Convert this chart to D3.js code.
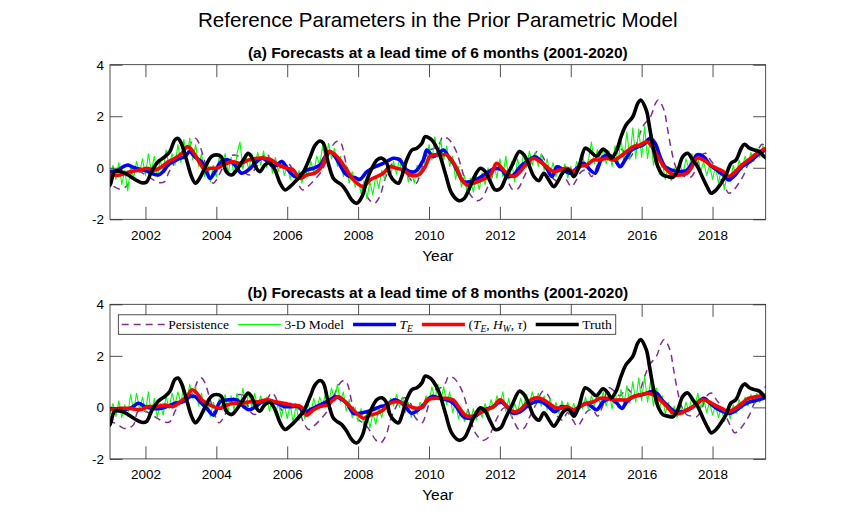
<!DOCTYPE html>
<html>
<head>
<meta charset="utf-8">
<script src="https://cdn.jsdelivr.net/npm/d3@7/dist/d3.min.js"></script>
<style>
  body { margin: 0; background: #fff; }
  svg { display: block; }
</style>
</head>
<body>
<svg id="chart" width="845" height="516"></svg>
<script>
'use strict';

/* global d3 */

var xTicks = [2002, 2004, 2006, 2008, 2010, 2012, 2014, 2016, 2018];
var yTicks = [-2, 0, 2, 4];
var leadA = 6;
var leadB = 8;
var monthStart = 2001;

// observed index (Truth), [year, value]
var truth = [
  [2000.30, -0.50], [2000.45, -0.60], [2000.60, -0.72], [2000.75, -0.82], [2000.90, -0.78],
  [2001.00, -0.67], [2001.13, -0.15], [2001.32, -0.15], [2001.51, -0.28], [2001.70, -0.45],
  [2001.89, -0.58], [2002.03, -0.55], [2002.17, -0.15], [2002.36, 0.24], [2002.55, 0.43],
  [2002.69, 0.63], [2002.83, 1.08], [2002.92, 1.14], [2003.01, 0.95], [2003.16, 0.30],
  [2003.30, -0.34], [2003.41, -0.60], [2003.53, -0.41], [2003.67, -0.02], [2003.86, 0.43],
  [2004.00, 0.50], [2004.14, 0.43], [2004.28, -0.15], [2004.43, -0.28], [2004.57, -0.09],
  [2004.76, 0.30], [2004.90, 0.56], [2004.99, 0.43], [2005.13, -0.02], [2005.23, -0.15],
  [2005.37, 0.11], [2005.51, 0.20], [2005.66, -0.10], [2005.80, -0.60], [2005.94, -0.86],
  [2006.08, -0.73], [2006.27, -0.47], [2006.46, -0.15], [2006.65, 0.43], [2006.79, 0.88],
  [2006.93, 1.04], [2007.02, 0.95], [2007.16, 0.17], [2007.30, -0.41], [2007.40, -0.54],
  [2007.54, -0.67], [2007.68, -0.93], [2007.82, -1.25], [2007.96, -1.38], [2008.11, -1.12],
  [2008.25, -0.47], [2008.39, -0.02], [2008.53, 0.30], [2008.67, 0.37], [2008.81, 0.17],
  [2008.90, -0.28], [2009.04, -0.54], [2009.14, -0.60], [2009.23, -0.34], [2009.37, 0.30],
  [2009.52, 0.69], [2009.66, 0.76], [2009.80, 0.95], [2009.89, 1.21], [2010.03, 1.14],
  [2010.12, 1.01], [2010.27, 0.63], [2010.46, -0.21], [2010.64, -0.99], [2010.85, -1.28],
  [2011.00, -1.18], [2011.12, -0.86], [2011.26, -0.40], [2011.45, -0.02], [2011.59, -0.15],
  [2011.73, -0.54], [2011.87, -0.86], [2012.02, -0.80], [2012.16, -0.41], [2012.35, 0.11],
  [2012.55, 0.63], [2012.68, 0.50], [2012.82, 0.11], [2012.96, -0.34], [2013.10, -0.50],
  [2013.24, -0.21], [2013.38, -0.47], [2013.52, -0.73], [2013.66, -0.47], [2013.80, -0.15],
  [2013.95, -0.09], [2014.09, -0.34], [2014.23, 0.04], [2014.41, 0.76], [2014.56, 0.63],
  [2014.72, 0.45], [2014.91, 0.72], [2015.05, 0.56], [2015.14, 0.37], [2015.28, 0.63],
  [2015.42, 1.21], [2015.56, 1.66], [2015.75, 1.98], [2015.89, 2.50], [2015.97, 2.63],
  [2016.13, 2.24], [2016.22, 1.60], [2016.32, 0.82], [2016.46, 0.04], [2016.60, -0.28],
  [2016.74, -0.34], [2016.88, -0.37], [2017.02, -0.09], [2017.16, 0.43], [2017.30, 0.56],
  [2017.44, 0.30], [2017.58, 0.04], [2017.73, -0.41], [2017.87, -0.80], [2017.96, -0.99],
  [2018.10, -0.86], [2018.24, -0.60], [2018.38, -0.28], [2018.52, 0.17], [2018.66, 0.30],
  [2018.81, 0.76], [2018.90, 0.91], [2019.04, 0.76], [2019.18, 0.69], [2019.32, 0.63],
  [2019.46, 0.43], [2019.55, 0.35]
];

// T_E forecasts, 6-month lead
var teA = [
  [2001.00, -0.15], [2001.23, -0.09], [2001.37, 0.04], [2001.51, 0.11], [2001.65, 0.02],
  [2001.84, -0.06], [2002.03, -0.12], [2002.17, -0.21], [2002.36, -0.28], [2002.50, -0.15],
  [2002.64, 0.11], [2002.78, 0.24], [2002.97, 0.37], [2003.11, 0.43], [2003.25, 0.63],
  [2003.35, 0.50], [2003.44, 0.37], [2003.58, 0.24], [2003.72, -0.15], [2003.82, -0.41],
  [2003.96, -0.15], [2004.14, 0.24], [2004.33, 0.30], [2004.52, 0.11], [2004.71, -0.21],
  [2004.90, -0.09], [2005.09, 0.17], [2005.27, 0.37], [2005.46, 0.24], [2005.60, 0.05],
  [2005.71, 0.11], [2005.85, 0.24], [2006.03, -0.09], [2006.22, -0.34], [2006.36, -0.28],
  [2006.55, -0.09], [2006.74, -0.02], [2006.93, 0.11], [2007.07, 0.43], [2007.21, 0.63],
  [2007.35, 0.43], [2007.49, 0.11], [2007.63, -0.21], [2007.77, -0.34], [2007.91, -0.38],
  [2008.05, -0.45], [2008.25, -0.15], [2008.50, 0.05], [2008.71, 0.17], [2009.00, 0.37],
  [2009.18, 0.30], [2009.37, -0.09], [2009.60, -0.15], [2009.84, 0.30], [2009.94, 0.69],
  [2010.12, 0.43], [2010.27, 0.56], [2010.41, 0.69], [2010.55, 0.43], [2010.69, 0.17],
  [2010.83, -0.21], [2010.97, -0.54], [2011.16, -0.54], [2011.40, -0.41], [2011.63, -0.21],
  [2011.87, -0.02], [2012.06, -0.09], [2012.20, -0.34], [2012.39, -0.28], [2012.57, 0.04],
  [2012.76, 0.24], [2012.99, 0.43], [2013.13, 0.30], [2013.32, -0.02], [2013.47, -0.34],
  [2013.61, 0.04], [2013.80, -0.09], [2013.98, -0.21], [2014.12, -0.09], [2014.36, 0.17],
  [2014.55, -0.09], [2014.69, -0.21], [2014.88, 0.37], [2015.06, 0.50], [2015.25, 0.30],
  [2015.39, 0.04], [2015.53, 0.30], [2015.72, 0.69], [2015.91, 0.82], [2016.05, 0.89],
  [2016.24, 1.14], [2016.38, 0.95], [2016.52, 0.43], [2016.66, 0.04], [2016.85, -0.09],
  [2017.09, -0.15], [2017.28, -0.09], [2017.42, 0.17], [2017.56, 0.50], [2017.75, 0.43],
  [2017.93, 0.11], [2018.12, -0.09], [2018.31, -0.28], [2018.45, -0.47], [2018.64, -0.28],
  [2018.83, 0.04], [2019.06, 0.24], [2019.32, 0.55], [2019.50, 0.70]
];

// (T_E, H_W, tau) forecasts, 6-month lead
var teHwTauA = [
  [2001.00, -0.28], [2001.28, -0.28], [2001.57, -0.15], [2001.85, -0.09], [2002.04, -0.02],
  [2002.27, -0.09], [2002.46, 0.04], [2002.65, 0.24], [2002.84, 0.37], [2003.03, 0.56],
  [2003.17, 0.82], [2003.26, 0.76], [2003.40, 0.50], [2003.54, 0.17], [2003.68, -0.09],
  [2003.82, -0.02], [2004.00, -0.02], [2004.20, 0.11], [2004.44, 0.24], [2004.67, 0.17],
  [2004.91, 0.30], [2005.14, 0.37], [2005.38, 0.37], [2005.56, 0.30], [2005.75, 0.11],
  [2005.99, -0.02], [2006.17, -0.09], [2006.36, -0.41], [2006.55, -0.28], [2006.78, -0.21],
  [2006.97, 0.04], [2007.16, 0.63], [2007.30, 0.56], [2007.49, 0.30], [2007.68, -0.09],
  [2007.92, -0.54], [2008.15, -0.73], [2008.34, -0.47], [2008.53, -0.34], [2008.71, -0.21],
  [2008.90, 0.04], [2009.09, -0.02], [2009.28, -0.09], [2009.47, -0.28], [2009.70, -0.28],
  [2009.89, 0.04], [2010.03, 0.45], [2010.12, 0.50], [2010.31, 0.50], [2010.50, 0.50],
  [2010.64, 0.30], [2010.78, -0.02], [2010.93, -0.47], [2011.07, -0.67], [2011.25, -0.60],
  [2011.49, -0.47], [2011.73, -0.28], [2011.91, 0.17], [2012.06, -0.02], [2012.20, -0.21],
  [2012.39, -0.34], [2012.57, -0.15], [2012.76, 0.17], [2012.95, 0.37], [2013.13, 0.24],
  [2013.32, 0.04], [2013.51, -0.15], [2013.70, -0.09], [2013.89, -0.02], [2014.07, -0.15],
  [2014.26, 0.04], [2014.45, 0.11], [2014.64, 0.30], [2014.83, 0.30], [2015.02, 0.37],
  [2015.20, 0.30], [2015.39, 0.43], [2015.58, 0.63], [2015.77, 0.82], [2015.96, 0.89],
  [2016.15, 1.01], [2016.29, 0.82], [2016.43, 0.50], [2016.57, 0.17], [2016.71, -0.09],
  [2016.90, -0.28], [2017.09, -0.28], [2017.28, -0.21], [2017.42, 0.04], [2017.56, 0.37],
  [2017.75, 0.30], [2017.93, 0.11], [2018.12, -0.02], [2018.31, -0.15], [2018.45, -0.34],
  [2018.64, -0.15], [2018.83, 0.11], [2019.01, 0.30], [2019.25, 0.55], [2019.50, 0.75]
];

// T_E forecasts, 8-month lead
var teB = [
  [2001.00, -0.04], [2001.28, -0.09], [2001.57, -0.04], [2001.80, 0.16], [2001.99, 0.03],
  [2002.22, -0.04], [2002.41, -0.04], [2002.60, 0.03], [2002.84, 0.16], [2003.07, 0.22],
  [2003.26, 0.42], [2003.40, 0.42], [2003.54, 0.22], [2003.73, -0.04], [2003.92, -0.30],
  [2004.11, 0.22], [2004.35, 0.29], [2004.58, 0.29], [2004.77, 0.03], [2004.92, -0.09],
  [2005.11, 0.03], [2005.30, 0.22], [2005.53, 0.22], [2005.72, 0.16], [2005.91, 0.03],
  [2006.10, 0.03], [2006.34, 0.03], [2006.46, -0.23], [2006.65, -0.09], [2006.83, 0.03],
  [2007.02, 0.16], [2007.21, 0.29], [2007.35, 0.42], [2007.49, 0.35], [2007.68, 0.16],
  [2007.87, -0.23], [2008.05, -0.23], [2008.24, -0.17], [2008.43, -0.09], [2008.62, 0.03],
  [2008.81, 0.09], [2009.00, 0.29], [2009.18, 0.22], [2009.33, 0.03], [2009.51, -0.23],
  [2009.70, -0.09], [2009.89, 0.16], [2010.03, 0.38], [2010.12, 0.42], [2010.31, 0.35],
  [2010.50, 0.29], [2010.69, 0.16], [2010.83, -0.09], [2010.97, -0.36], [2011.16, -0.42],
  [2011.35, -0.30], [2011.58, -0.09], [2011.82, 0.03], [2012.01, 0.22], [2012.20, 0.03],
  [2012.39, -0.23], [2012.57, -0.17], [2012.76, 0.03], [2012.99, 0.22], [2013.18, 0.22],
  [2013.37, 0.03], [2013.55, -0.17], [2013.74, 0.03], [2013.93, -0.04], [2014.07, -0.23],
  [2014.26, 0.03], [2014.45, 0.16], [2014.59, 0.03], [2014.73, -0.09], [2014.92, 0.22],
  [2015.11, 0.35], [2015.30, 0.16], [2015.44, -0.04], [2015.58, 0.22], [2015.77, 0.42],
  [2015.96, 0.48], [2016.15, 0.55], [2016.29, 0.61], [2016.43, 0.55], [2016.57, 0.29],
  [2016.76, 0.03], [2016.95, -0.17], [2017.13, -0.17], [2017.32, -0.09], [2017.51, 0.09],
  [2017.75, 0.35], [2017.93, 0.16], [2018.12, -0.04], [2018.31, -0.17], [2018.50, -0.23],
  [2018.69, -0.09], [2018.87, 0.09], [2019.06, 0.22], [2019.30, 0.30], [2019.50, 0.38]
];

// (T_E, H_W, tau) forecasts, 8-month lead
var teHwTauB = [
  [2001.00, -0.09], [2001.28, -0.04], [2001.57, -0.04], [2001.85, -0.09], [2002.08, 0.03],
  [2002.32, 0.03], [2002.55, 0.09], [2002.79, 0.03], [2002.98, 0.22], [2003.17, 0.42],
  [2003.31, 0.68], [2003.45, 0.55], [2003.59, 0.29], [2003.73, 0.16], [2003.92, 0.03],
  [2004.11, -0.04], [2004.30, 0.09], [2004.49, 0.16], [2004.72, 0.16], [2004.96, 0.22],
  [2005.19, 0.22], [2005.43, 0.29], [2005.67, 0.22], [2005.91, 0.16], [2006.14, 0.09],
  [2006.38, 0.03], [2006.55, -0.30], [2006.74, -0.09], [2006.93, 0.03], [2007.11, 0.09],
  [2007.30, 0.29], [2007.44, 0.42], [2007.58, 0.29], [2007.77, 0.03], [2007.96, -0.23],
  [2008.15, -0.42], [2008.34, -0.30], [2008.53, -0.23], [2008.71, -0.09], [2008.90, 0.16],
  [2009.09, 0.22], [2009.28, 0.16], [2009.47, 0.03], [2009.66, -0.04], [2009.84, 0.03],
  [2009.94, 0.29], [2010.12, 0.35], [2010.31, 0.35], [2010.50, 0.35], [2010.69, 0.29],
  [2010.83, 0.03], [2011.02, -0.30], [2011.16, -0.36], [2011.40, -0.23], [2011.63, -0.09],
  [2011.82, 0.03], [2012.01, 0.29], [2012.20, 0.03], [2012.39, -0.17], [2012.57, -0.09],
  [2012.76, 0.16], [2012.95, 0.35], [2013.13, 0.35], [2013.32, 0.22], [2013.51, 0.03],
  [2013.70, -0.04], [2013.89, 0.03], [2014.07, -0.09], [2014.26, 0.03], [2014.45, 0.16],
  [2014.64, 0.22], [2014.83, 0.35], [2015.02, 0.35], [2015.20, 0.29], [2015.39, 0.29],
  [2015.58, 0.29], [2015.77, 0.42], [2015.96, 0.48], [2016.15, 0.55], [2016.34, 0.48],
  [2016.52, 0.29], [2016.71, 0.03], [2016.90, -0.23], [2017.09, -0.23], [2017.28, -0.09],
  [2017.47, 0.03], [2017.70, 0.29], [2017.89, 0.22], [2018.07, 0.09], [2018.26, -0.04],
  [2018.45, -0.17], [2018.64, -0.04], [2018.83, 0.16], [2019.01, 0.35], [2019.25, 0.42],
  [2019.50, 0.48]
];

// 3-D model forecasts, monthly from Jan 2001, 6-month lead
var model3dA = [
  -0.40, 0.10, -0.45, 0.20, -0.65, -0.10, -0.90, 0.05, -0.40, 0.25, -0.20, 0.35,
  -0.30, 0.55, -0.15, 0.45, -0.35, 0.30, -0.10, 0.70, 0.05, 0.55, 0.10, 0.90,
  0.20, 1.10, 0.35, 1.15, 0.30, 0.90, 0.05, 0.55, -0.35, 0.20, -0.55, 0.10,
  -0.35, 0.45, 0.05, 0.55, -0.20, 0.40, -0.30, 0.55, 1.00, -0.05, 0.45, -0.10,
  0.55, 0.05, 0.60, 0.10, 0.65, 0.00, 0.45, -0.20, 0.40, -0.15, 0.30, -0.30,
  0.10, -0.45, 0.00, -0.55, -0.10, -0.60, 0.05, -0.35, 0.25, -0.20, 0.45, 0.10,
  0.85, 0.25, 0.95, 0.35, 0.75, 0.05, 0.45, -0.35, 0.10, -0.60, -0.15, -0.75,
  -0.40, -1.00, -0.50, -1.20, -0.55, -1.05, -0.30, -0.80, -0.10, -0.45, 0.15, -0.30,
  0.25, -0.25, 0.35, -0.35, 0.05, -0.55, -0.10, -0.60, 0.10, -0.30, 0.45, 0.00,
  0.90, 0.30, 1.20, 0.40, 1.05, 0.30, 0.85, 0.05, 0.45, -0.45, 0.05, -0.75,
  -0.30, -1.05, -0.40, -0.95, -0.30, -0.85, -0.20, -0.65, 0.00, -0.55, 0.15, -0.40,
  0.35, -0.35, 0.45, -0.45, 0.25, -0.55, 0.35, -0.20, 0.55, 0.00, 0.65, 0.10,
  0.60, 0.05, 0.55, -0.10, 0.35, -0.30, 0.20, -0.35, 0.10, -0.30, 0.15, -0.40,
  0.05, -0.40, 0.25, -0.10, 0.45, 0.00, 0.30, 1.00, 0.15, 0.70, 0.20, 0.75,
  0.15, 0.65, 0.05, 0.85, 0.20, 1.10, 0.25, 1.40, 0.30, 1.55, 0.35, 1.50,
  0.40, 1.60, 0.35, 1.20, 0.10, 0.70, -0.25, 0.20, -0.45, 0.05, -0.50, 0.00,
  -0.35, 0.15, -0.25, 0.35, -0.05, 0.55, 0.10, 0.45, -0.15, 0.25, -0.30, 0.10,
  -0.45, 0.05, -0.60, -0.05, -0.85, -0.20, -0.55, 0.10, -0.30, 0.30, -0.10, 0.45,
  0.10, 0.60, 0.25, 0.75, 0.40, 0.85, 0.55
];

// 3-D model forecasts, monthly from Jan 2001, 8-month lead
var model3dB = [
  -0.25, 0.15, -0.35, 0.25, -0.40, 0.10, -0.30, 0.50, -0.15, 0.55, -0.10, 0.40,
  -0.20, 0.60, -0.25, 0.35, -0.40, 0.15, -0.30, 0.45, -0.05, 0.55, 0.10, 0.60,
  0.15, 0.85, 0.20, 0.90, 0.35, 0.80, 0.05, 0.55, -0.20, 0.30, -0.35, 0.20,
  -0.20, 0.35, -0.05, 0.50, -0.15, 0.45, -0.10, 0.55, 0.05, 0.75, -0.05, 0.60,
  0.00, 0.55, -0.05, 0.45, 0.05, 0.40, -0.15, 0.30, -0.30, 0.20, -0.40, 0.15,
  -0.45, 0.10, -0.55, 0.05, -0.50, -0.05, -0.45, 0.15, -0.20, 0.35, -0.10, 0.40,
  0.05, 0.55, 0.15, 0.75, 0.30, 0.90, 0.20, 0.60, -0.15, 0.30, -0.40, 0.00,
  -0.55, -0.05, -0.75, -0.15, -0.80, -0.25, -0.65, 0.00, -0.40, 0.15, -0.20, 0.35,
  0.05, 0.50, 0.00, 0.40, -0.20, 0.20, -0.40, 0.05, -0.25, 0.20, -0.05, 0.45,
  0.20, 0.80, 0.30, 0.90, 0.25, 0.80, 0.10, 0.60, -0.20, 0.20, -0.45, -0.05,
  -0.55, -0.10, -0.60, -0.05, -0.50, 0.00, -0.40, 0.15, -0.25, 0.30, -0.05, 0.45,
  0.10, 0.60, -0.15, 0.35, -0.35, 0.15, -0.20, 0.35, 0.00, 0.50, 0.15, 0.60,
  0.10, 0.55, 0.05, 0.45, -0.10, 0.35, -0.20, 0.20, -0.25, 0.25, -0.15, 0.20,
  -0.30, 0.15, -0.20, 0.30, -0.05, 0.40, -0.10, 0.45, 0.05, 0.55, 0.10, 0.60,
  0.05, 0.55, -0.05, 0.60, 0.00, 0.70, 0.10, 0.85, 0.15, 1.00, 0.20, 1.15,
  0.25, 1.20, 0.20, 1.00, 0.05, 0.75, -0.10, 0.45, -0.25, 0.20, -0.35, 0.05,
  -0.40, 0.05, -0.30, 0.20, -0.15, 0.40, 0.00, 0.55, -0.05, 0.35, -0.20, 0.20,
  -0.30, 0.10, -0.40, 0.00, -0.55, -0.05, -0.45, 0.10, -0.25, 0.30, -0.05, 0.40,
  0.05, 0.50, 0.15, 0.55, 0.20, 0.60, 0.30
];

var colors = {
  persistence: '#7e2f8e',
  model3d: '#00ff00',
  te: '#0000ff',
  full: '#ff0000',
  truth: '#000000'
};

var sansFont = '"Liberation Sans", Arial, Helvetica, sans-serif';
var serifFont = '"Liberation Serif", "DejaVu Serif", "Times New Roman", serif';
var axisColor = '#262626';

var svg = d3.select('#chart');
var x = d3.scaleLinear().domain([2001, 2019.5]).range([110, 765.7]);
var panelHeight = 154.6;
var tickLen = 12.5;

svg.append('text')
  .attr('x', 437.8).attr('y', 27)
  .attr('text-anchor', 'middle')
  .attr('font-family', sansFont).attr('font-size', 20.6)
  .attr('fill', '#000')
  .text('Reference Parameters in the Prior Parametric Model');

function monthly(values) {
  return values.map(function (v, i) {
    return [monthStart + i / 12, v];
  });
}

// persistence forecast = observed value carried forward by the lead time
function shifted(series, lead) {
  return series.map(function (d) {
    return [d[0] + lead / 12, d[1]];
  });
}

function plainNumber(d) {
  return String(d);
}

function drawPanel(id, top, title, lead, model3d, te, full, withLegend) {
  var y = d3.scaleLinear().domain([-2, 4]).range([top + panelHeight, top]);
  var g = svg.append('g').attr('class', 'panel-' + id);
  var x0 = x.range()[0];
  var x1 = x.range()[1];

  g.append('clipPath').attr('id', 'clip-' + id)
    .append('rect')
    .attr('x', x0).attr('y', top)
    .attr('width', x1 - x0).attr('height', panelHeight);

  var smooth = d3.line()
    .x(function (d) { return x(d[0]); })
    .y(function (d) { return y(d[1]); })
    .curve(d3.curveCatmullRom.alpha(0.5));

  var straight = d3.line()
    .x(function (d) { return x(d[0]); })
    .y(function (d) { return y(d[1]); });

  var plot = g.append('g').attr('clip-path', 'url(#clip-' + id + ')')
    .attr('fill', 'none')
    .attr('stroke-linejoin', 'round')
    .attr('stroke-linecap', 'round');

  plot.append('path').datum(shifted(truth, lead))
    .attr('d', smooth)
    .attr('stroke', colors.persistence)
    .attr('stroke-width', 1.5)
    .attr('stroke-dasharray', '7,5')
    .attr('stroke-linecap', 'butt');

  plot.append('path').datum(monthly(model3d))
    .attr('d', straight)
    .attr('stroke', colors.model3d)
    .attr('stroke-width', 1.1);

  plot.append('path').datum(te)
    .attr('d', smooth)
    .attr('stroke', colors.te)
    .attr('stroke-width', 3.6);

  plot.append('path').datum(full)
    .attr('d', smooth)
    .attr('stroke', colors.full)
    .attr('stroke-width', 3.6);

  plot.append('path').datum(truth)
    .attr('d', smooth)
    .attr('stroke', colors.truth)
    .attr('stroke-width', 3.6);

  // axes: MATLAB style, inward ticks on all four sides
  var bottom = g.append('g')
    .attr('transform', 'translate(0,' + (top + panelHeight) + ')')
    .call(d3.axisBottom(x).tickValues(xTicks).tickFormat(plainNumber)
      .tickSize(-tickLen).tickPadding(11));
  var topAx = g.append('g')
    .attr('transform', 'translate(0,' + top + ')')
    .call(d3.axisTop(x).tickValues(xTicks).tickFormat('').tickSize(-tickLen));
  var left = g.append('g')
    .attr('transform', 'translate(' + x0 + ',0)')
    .call(d3.axisLeft(y).tickValues(yTicks).tickFormat(plainNumber)
      .tickSize(-tickLen).tickPadding(6));
  var right = g.append('g')
    .attr('transform', 'translate(' + x1 + ',0)')
    .call(d3.axisRight(y).tickValues(yTicks).tickFormat('').tickSize(-tickLen));

  [bottom, topAx, left, right].forEach(function (ax) {
    ax.select('.domain').remove();
    ax.selectAll('.tick line').attr('stroke', axisColor).attr('stroke-width', 0.8);
    ax.selectAll('text')
      .attr('font-family', sansFont)
      .attr('font-size', 13.5)
      .attr('fill', '#000');
  });

  g.append('rect')
    .attr('x', x0).attr('y', top)
    .attr('width', x1 - x0).attr('height', panelHeight)
    .attr('fill', 'none')
    .attr('stroke', axisColor)
    .attr('stroke-width', 0.8);

  g.append('text')
    .attr('x', (x0 + x1) / 2).attr('y', top - 6.5)
    .attr('text-anchor', 'middle')
    .attr('font-family', sansFont).attr('font-size', 15.5)
    .attr('font-weight', 'bold')
    .attr('fill', '#000')
    .text(title);

  g.append('text')
    .attr('x', (x0 + x1) / 2).attr('y', top + panelHeight + 41.5)
    .attr('text-anchor', 'middle')
    .attr('font-family', sansFont).attr('font-size', 15.5)
    .attr('fill', '#000')
    .text('Year');

  if (withLegend) drawLegend(g, top + 10.5);
}

function drawLegend(g, top) {
  var items = [
    { key: 'persistence', width: 1.5, dash: '7,5', label: [['Persistence']] },
    { key: 'model3d', width: 1.1, label: [['3-D Model']] },
    { key: 'te', width: 3.6, label: [['T', 'i'], ['E', 'sub']] },
    { key: 'full', width: 3.6, label: [['(', ''], ['T', 'i'], ['E', 'sub'], [', ', ''], ['H', 'i'], ['W', 'sub'], [', ', ''], ['τ', 'i'], [')', '']] },
    { key: 'truth', width: 3.6, label: [['Truth']] }
  ];
  var boxLeft = 118.3;
  var boxHeight = 19.5;
  var cy = top + boxHeight / 2;
  var lg = g.append('g').attr('class', 'legend');
  var box = lg.append('rect')
    .attr('x', boxLeft).attr('y', top)
    .attr('height', boxHeight)
    .attr('fill', '#fff')
    .attr('stroke', axisColor)
    .attr('stroke-width', 0.8);

  var cursor = boxLeft + 3.4;
  items.forEach(function (it) {
    lg.append('line')
      .attr('x1', cursor).attr('x2', cursor + 43)
      .attr('y1', cy).attr('y2', cy)
      .attr('stroke', colors[it.key])
      .attr('stroke-width', it.width)
      .attr('stroke-dasharray', it.dash || null);
    var t = lg.append('text')
      .attr('x', cursor + 46.5).attr('y', cy + 4.5)
      .attr('font-family', serifFont).attr('font-size', 13.5)
      .attr('fill', '#000');
    var lowered = false;
    it.label.forEach(function (part) {
      var span = t.append('tspan').text(part[0]);
      if (part[1] === 'i') span.attr('font-style', 'italic');
      if (part[1] === 'sub') {
        span.attr('font-size', 9.5).attr('font-style', 'italic').attr('dy', 3);
        lowered = true;
      } else if (lowered) {
        span.attr('dy', -3);
        lowered = false;
      }
    });
    cursor = cursor + 46.5 + t.node().getComputedTextLength() + 9;
  });
  box.attr('width', cursor - 9 + 4 - boxLeft);
}

drawPanel('a', 64.7, '(a) Forecasts at a lead time of 6 months (2001-2020)',
  leadA, model3dA, teA, teHwTauA, false);
drawPanel('b', 304.3, '(b) Forecasts at a lead time of 8 months (2001-2020)',
  leadB, model3dB, teB, teHwTauB, true);
</script>
</body>
</html>
